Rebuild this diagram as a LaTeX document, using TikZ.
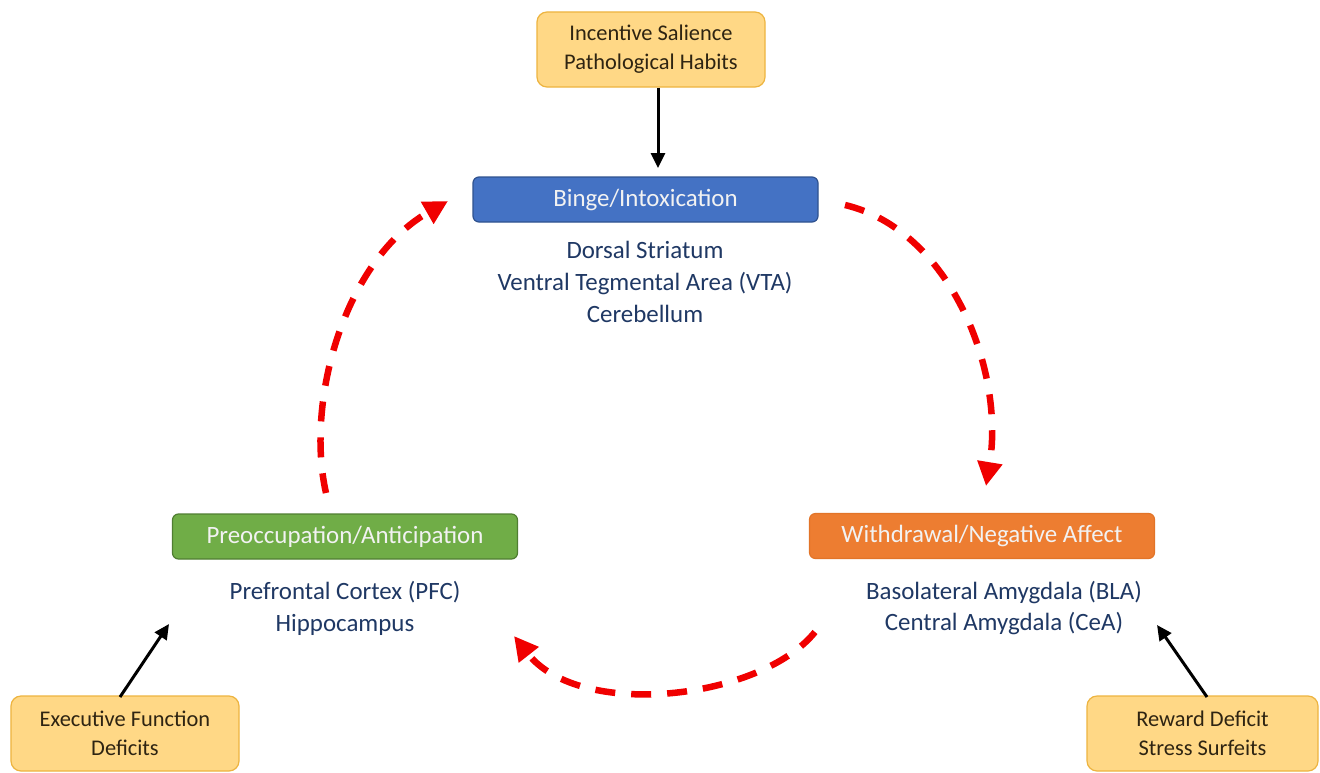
\documentclass[tikz,border=0pt]{standalone}
\usepackage{fontspec}
\setmainfont{Carlito}
\usetikzlibrary{arrows.meta}
\definecolor{yfill}{HTML}{FFD886}
\definecolor{ydraw}{HTML}{EDB440}
\definecolor{bluef}{HTML}{4472C4}
\definecolor{blued}{HTML}{2F528F}
\definecolor{greenf}{HTML}{70AD47}
\definecolor{greend}{HTML}{507E32}
\definecolor{orangef}{HTML}{ED7D31}
\definecolor{oranged}{HTML}{E27428}
\definecolor{navy}{HTML}{1F3864}
\definecolor{ytext}{HTML}{2E2412}
\definecolor{arrred}{HTML}{F00000}
\begin{document}
\begin{tikzpicture}[x=1bp,y=1bp,
  yellowbox/.style={draw=ydraw, fill=yfill, line width=1.2bp, rounded corners=10bp,
    align=center, text=ytext, font=\fontsize{22.5}{29}\selectfont, inner sep=0pt,
    minimum width=228bp, minimum height=75bp},
  stagebox/.style={line width=1.2bp, rounded corners=6bp, text=white!95!black,
    font=\fontsize{25}{28}\selectfont, inner sep=0pt,
    minimum width=345bp, minimum height=45bp},
  regions/.style={align=center, text=navy, font=\fontsize{25}{32}\selectfont, inner sep=0pt},
  redarc/.style={draw=arrred, line width=6.5bp, dash pattern=on 20bp off 16bp,
    -{Triangle[length=24bp,width=24bp]}},
  blackarrow/.style={draw=black, line width=3bp, -{Triangle[length=15bp,width=14bp]}}
]
\useasboundingbox (0,0) rectangle (1320,-772);
\fill[white] (0,0) rectangle (1320,-772);

% yellow boxes
\node[yellowbox] (top) at (651,-49.5) {Incentive Salience\\Pathological Habits};
\node[yellowbox] (efd) at (125,-733.5) {Executive Function\\Deficits};
\node[yellowbox, minimum width=231bp] (rds) at (1202.5,-733.5) {Reward Deficit\\Stress Surfeits};

% stage boxes
\node[stagebox, draw=blued, fill=bluef] (binge) at (645.5,-199.5) {Binge/Intoxication};
\node[stagebox, draw=greend, fill=greenf] (preo) at (345,-536.5) {Preoccupation/Anticipation};
\node[stagebox, draw=oranged, fill=orangef] (withd) at (982,-536) {Withdrawal/Negative Affect};

% region texts
\node[regions] (bingeR) at (645,-282) {Dorsal Striatum\\Ventral Tegmental Area (VTA)\\Cerebellum};
\node[regions] (preoR) at (345,-608) {Prefrontal Cortex (PFC)\\Hippocampus};
\node[regions] (withdR) at (1004,-608) {Basolateral Amygdala (BLA)\\Central Amygdala (CeA)};

% black arrows
\coordinate (topS) at (658,-87.5);
\coordinate (bingeIn) at (658,-168);
\draw[blackarrow] (topS) -- (bingeIn);
\coordinate (efdN) at (120,-697);
\coordinate (preoIn) at (169,-624);
\draw[blackarrow] (efdN) -- (preoIn);
\coordinate (rdsN) at (1207,-697);
\coordinate (withdIn) at (1157,-625);
\draw[blackarrow] (rdsN) -- (withdIn);

% red dashed cycle
\coordinate (lA) at (326,-493);
\coordinate (lB) at (448,-201);
\draw[redarc] (lA) .. controls (305,-400) and (345,-260) .. (lB);
\coordinate (rA) at (845,-205);
\coordinate (rB) at (986,-486);
\draw[redarc] (rA) .. controls (950,-230) and (1005,-370) .. (rB);
\coordinate (bA) at (815,-632);
\coordinate (bB) at (514,-636);
\draw[redarc] (bA) .. controls (760,-700) and (580,-720) .. (bB);
\end{tikzpicture}
\end{document}
